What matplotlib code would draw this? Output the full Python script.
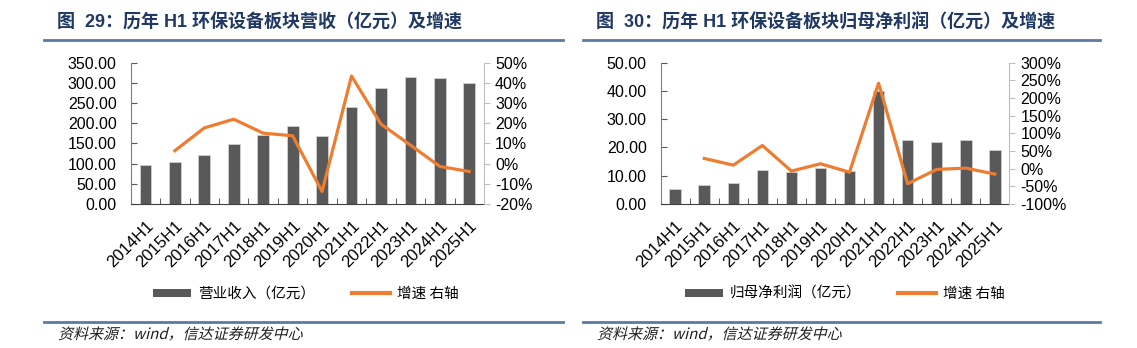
import numpy as np
import matplotlib
matplotlib.use("Agg")
import matplotlib.pyplot as plt
from matplotlib.ticker import FuncFormatter, MultipleLocator
from matplotlib.lines import Line2D
from matplotlib.patches import Patch, PathPatch
from matplotlib.textpath import TextPath
from matplotlib.font_manager import FontProperties
from matplotlib.transforms import Affine2D

plt.rcParams["font.family"] = ["Liberation Sans", "Noto Sans CJK SC", "DejaVu Sans"]
plt.rcParams["axes.unicode_minus"] = False

# data
periods = ["2014H1", "2015H1", "2016H1", "2017H1", "2018H1", "2019H1",
           "2020H1", "2021H1", "2022H1", "2023H1", "2024H1", "2025H1"]
revenue = [97.2, 103.0, 121.9, 148.2, 170.5, 194.3, 168.0, 241.0, 288.0, 315.4, 311.3, 298.9]
revenue_growth = [np.nan, 6.4, 17.7, 22.0, 15.1, 13.8, -13.8, 43.4, 19.6, 9.2, -1.4, -3.9]
profit = [5.2, 6.7, 7.4, 12.2, 11.4, 12.9, 11.6, 40.0, 22.8, 22.1, 22.5, 19.2]
profit_growth = [np.nan, 28.9, 10.0, 65.6, -6.8, 13.9, -10.0, 242.0, -42.6, -2.1, 1.6, -15.3]

titles = ["图  29：历年 H1 环保设备板块营收（亿元）及增速",
          "图  30：历年 H1 环保设备板块归母净利润（亿元）及增速"]
bar_labels = ["营业收入（亿元）", "归母净利润（亿元）"]
line_label = "增速 右轴"
source = "资料来源：wind，信达证券研发中心"

BAR = "#595959"
LINE = "#ED7D31"
NAVY = "#1F3864"
RULE = "#5A7AA3"

W, H = 1137, 348
fig = plt.figure(figsize=(W / 100, H / 100), dpi=100)


def fx(px):
    return px / W


def fy(py):
    return 1 - py / H


panels = [
    dict(ax_px=(130.7, 484.0), rule=(44, 563), title_x=56.7, src_x=58,
         bars=revenue, growth=revenue_growth, label=bar_labels[0], title=titles[0],
         ylim=(0, 350), ystep=50, glim=(-20, 50), gstep=10, leg_x=306),
    dict(ax_px=(660.7, 1009.3), rule=(583, 1100), title_x=596, src_x=597,
         bars=profit, growth=profit_growth, label=bar_labels[1], title=titles[1],
         ylim=(0, 50), ystep=10, glim=(-100, 300), gstep=50, leg_x=845),
]

x = np.arange(len(periods))
top_px, bot_px = 62.7, 204.0
src_font = FontProperties(family="Noto Sans CJK SC")

for p in panels:
    l, r = p["ax_px"]
    ax = fig.add_axes([fx(l), fy(bot_px), fx(r - l), (bot_px - top_px) / H])
    ax.bar(x, p["bars"], width=0.4, color=BAR, edgecolor="#d0d0d0", linewidth=0.6, zorder=2)
    ax.set_xlim(-0.5, len(periods) - 0.5)
    ax.set_ylim(*p["ylim"])
    ax.yaxis.set_major_locator(MultipleLocator(p["ystep"]))
    ax.yaxis.set_major_formatter(FuncFormatter(lambda v, _: f"{v:.2f}"))
    ax.set_xticks(x)
    ax.set_xticklabels(periods, rotation=45, ha="right", rotation_mode="anchor")
    ax.set_xticks(np.arange(-0.5, len(periods), 1.0), minor=True)
    ax.tick_params(axis="x", which="major", length=0, pad=10, labelsize=12)
    ax.tick_params(axis="x", which="minor", direction="in", length=4, color="#404040")
    ax.tick_params(axis="y", direction="in", length=4, color="#595959", labelsize=11.5, pad=10)
    for s in ("top", "right"):
        ax.spines[s].set_visible(False)
    ax.spines["left"].set_color("#7f7f7f")
    ax.spines["bottom"].set_color("#404040")

    ax2 = ax.twinx()
    ax2.plot(x, p["growth"], color=LINE, lw=2.3, zorder=3)
    ax2.set_ylim(*p["glim"])
    ax2.yaxis.set_major_locator(MultipleLocator(p["gstep"]))
    ax2.yaxis.set_major_formatter(FuncFormatter(lambda v, _: f"{v:.0f}%"))
    ax2.tick_params(axis="y", direction="out", length=4, color="#bfbfbf", labelsize=11.5, pad=4)
    for s in ("top", "left", "bottom"):
        ax2.spines[s].set_visible(False)
    ax2.spines["right"].set_color("#bfbfbf")

    handles = [Patch(facecolor=BAR, edgecolor="none", label=p["label"]),
               Line2D([], [], color=LINE, lw=3, label=line_label)]
    fig.legend(handles=handles, loc="center", bbox_to_anchor=(fx(p["leg_x"]), fy(294)),
               ncol=2, frameon=False, handlelength=2.6, handleheight=0.5,
               handletextpad=0.5, columnspacing=2.5,
               prop={"family": ["Noto Sans CJK SC"], "size": 10.5})

    fig.text(fx(p["title_x"]), fy(23), p["title"], fontsize=13, fontweight="bold",
             color=NAVY, va="center", ha="left")
    a, b = p["rule"]
    fig.add_artist(Line2D([fx(a), fx(b)], [fy(40), fy(40)], color=RULE, lw=2))
    fig.add_artist(Line2D([fx(a), fx(b)], [fy(322), fy(322)], color=RULE, lw=2))

    # source line, slanted like the original italic
    tp = TextPath((0, 0), source, size=15, prop=src_font)
    tr = Affine2D().skew_deg(14, 0).translate(p["src_x"], H - 339)
    fig.add_artist(PathPatch(tp, transform=tr, facecolor="#222222", edgecolor="none"))

fig.savefig("out.png", dpi=100)
